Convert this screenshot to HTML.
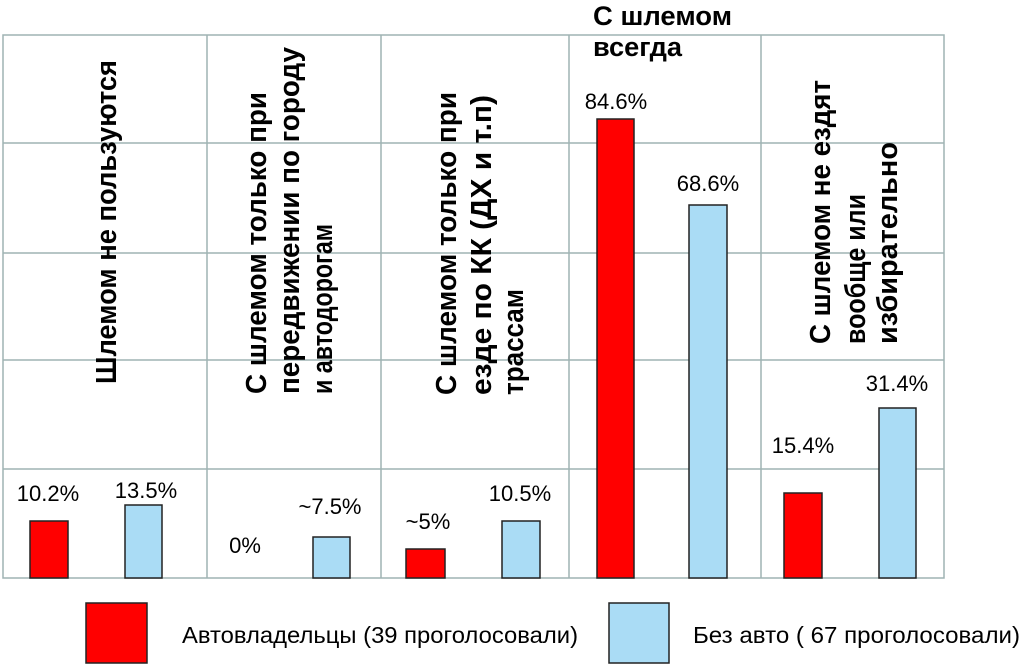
<!DOCTYPE html>
<html><head><meta charset="utf-8"><style>
html,body{margin:0;padding:0;background:#fff;}
svg{display:block;}
text{font-family:"Liberation Sans",Arial,sans-serif;fill:#000;}
.v{font-size:22px;text-anchor:middle;}
.r{font-size:29px;font-weight:bold;}
</style></head><body>
<svg width="1024" height="665" xmlns="http://www.w3.org/2000/svg">
<g stroke="#9fb3b3" stroke-width="1.5" fill="none">
<rect x="3" y="35" width="941" height="543"/>
<line x1="3" y1="143" x2="944" y2="143"/>
<line x1="3" y1="253" x2="944" y2="253"/>
<line x1="3" y1="360" x2="944" y2="360"/>
<line x1="3" y1="469" x2="944" y2="469"/>
<line x1="207" y1="35" x2="207" y2="578"/>
<line x1="381" y1="35" x2="381" y2="578"/>
<line x1="569" y1="35" x2="569" y2="578"/>
<line x1="761" y1="35" x2="761" y2="578"/>
</g>
<g stroke="#222" stroke-width="1.5">
<rect x="30" y="521" width="38" height="57" fill="#f00"/>
<rect x="125" y="505" width="37" height="73" fill="#aadcf5"/>
<rect x="313" y="537" width="37" height="41" fill="#aadcf5"/>
<rect x="406" y="549" width="39" height="29" fill="#f00"/>
<rect x="502" y="521" width="38" height="57" fill="#aadcf5"/>
<rect x="597" y="119" width="37" height="459" fill="#f00"/>
<rect x="689" y="205" width="38" height="373" fill="#aadcf5"/>
<rect x="784" y="493" width="38" height="85" fill="#f00"/>
<rect x="879" y="408" width="37" height="170" fill="#aadcf5"/>
<rect x="86" y="603" width="61" height="60" fill="#f00"/>
<rect x="609" y="603" width="60" height="60" fill="#aadcf5"/>
</g>
<text class="v" x="48" y="501">10.2%</text>
<text class="v" x="146" y="498">13.5%</text>
<text class="v" x="245" y="553">0%</text>
<text class="v" x="330" y="514">~7.5%</text>
<text class="v" x="428" y="529">~5%</text>
<text class="v" x="520" y="501">10.5%</text>
<text class="v" x="616" y="109">84.6%</text>
<text class="v" x="708" y="191">68.6%</text>
<text class="v" x="803" y="453">15.4%</text>
<text class="v" x="897" y="391">31.4%</text>
<text x="593" y="25" font-size="27" font-weight="bold" textLength="139" lengthAdjust="spacingAndGlyphs">С шлемом</text>
<text x="593" y="56" font-size="27" font-weight="bold" textLength="89" lengthAdjust="spacingAndGlyphs">всегда</text>
<text class="r" transform="translate(116,384) rotate(-90)" textLength="324" lengthAdjust="spacingAndGlyphs">Шлемом не пользуются</text>
<text class="r" transform="translate(266,394) rotate(-90)" textLength="302" lengthAdjust="spacingAndGlyphs">С шлемом только при</text>
<text class="r" transform="translate(299,394) rotate(-90)" textLength="347" lengthAdjust="spacingAndGlyphs">передвижении по городу</text>
<text class="r" transform="translate(332,394) rotate(-90)" textLength="170" lengthAdjust="spacingAndGlyphs">и автодорогам</text>
<text class="r" transform="translate(456,395) rotate(-90)" textLength="303" lengthAdjust="spacingAndGlyphs">С шлемом только при</text>
<text class="r" transform="translate(491,395) rotate(-90)" textLength="300" lengthAdjust="spacingAndGlyphs">езде по КК (ДХ и т.п)</text>
<text class="r" transform="translate(523,395) rotate(-90)" textLength="106" lengthAdjust="spacingAndGlyphs">трассам</text>
<text class="r" transform="translate(830,344) rotate(-90)" textLength="264" lengthAdjust="spacingAndGlyphs">С шлемом не ездят</text>
<text class="r" transform="translate(865,344) rotate(-90)" textLength="150" lengthAdjust="spacingAndGlyphs">вообще или</text>
<text class="r" transform="translate(897,344) rotate(-90)" textLength="202" lengthAdjust="spacingAndGlyphs">избирательно</text>
<text x="182" y="643" font-size="23" textLength="396" lengthAdjust="spacingAndGlyphs">Автовладельцы (39 проголосовали)</text>
<text x="693" y="643" font-size="23" textLength="327" lengthAdjust="spacingAndGlyphs">Без авто ( 67 проголосовали)</text>
</svg>
</body></html>
